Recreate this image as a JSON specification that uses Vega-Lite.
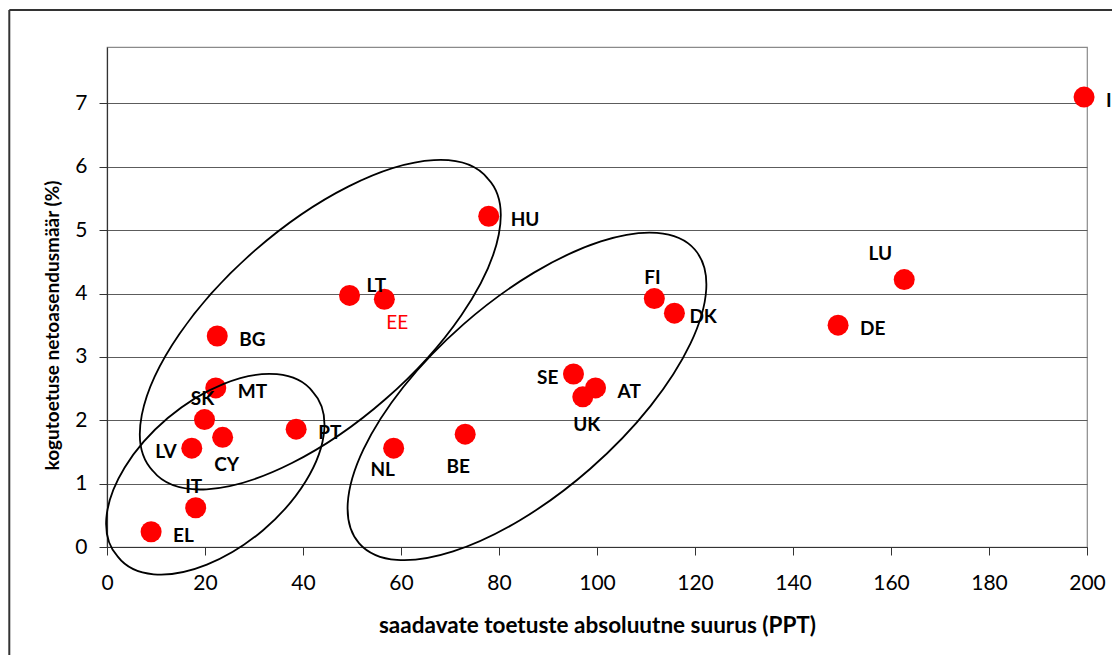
{
  "$schema": "https://vega.github.io/schema/vega-lite/v6.json",
  "width": 980,
  "height": 500,
  "autosize": {"type": "none"},
  "padding": {"left": 107, "top": 47, "right": 25, "bottom": 108},
  "background": "white",
  "config": {
    "view": {"stroke": "#8a8a8a", "strokeWidth": 1.2},
    "font": "Lato",
    "text": {"font": "Lato", "fontSize": 19, "fontWeight": "bold", "color": "#000000", "baseline": "middle"}
  },
  "datasets": {
    "countries": [
      {"country": "IE", "support": 199.4, "rate": 7.10, "side": "right"},
      {"country": "HU", "support": 77.9, "rate": 5.22, "side": "right"},
      {"country": "LU", "support": 162.7, "rate": 4.22, "side": "aboveLeft"},
      {"country": "LT", "support": 49.5, "rate": 3.97, "side": "aboveRight"},
      {"country": "EE", "support": 56.6, "rate": 3.91, "side": "home"},
      {"country": "FI", "support": 111.7, "rate": 3.92, "side": "above"},
      {"country": "DK", "support": 115.8, "rate": 3.69, "side": "rightNear"},
      {"country": "DE", "support": 149.2, "rate": 3.50, "side": "right"},
      {"country": "BG", "support": 22.5, "rate": 3.33, "side": "right"},
      {"country": "MT", "support": 22.2, "rate": 2.51, "side": "right"},
      {"country": "SE", "support": 95.2, "rate": 2.73, "side": "left"},
      {"country": "AT", "support": 99.7, "rate": 2.51, "side": "right"},
      {"country": "UK", "support": 97.1, "rate": 2.37, "side": "below"},
      {"country": "SK", "support": 19.9, "rate": 2.01, "side": "above"},
      {"country": "PT", "support": 38.6, "rate": 1.86, "side": "right"},
      {"country": "CY", "support": 23.6, "rate": 1.73, "side": "below"},
      {"country": "LV", "support": 17.3, "rate": 1.56, "side": "left"},
      {"country": "NL", "support": 58.5, "rate": 1.56, "side": "belowLeft"},
      {"country": "BE", "support": 73.1, "rate": 1.78, "side": "belowDeep"},
      {"country": "IT", "support": 18.1, "rate": 0.62, "side": "above"},
      {"country": "EL", "support": 9.0, "rate": 0.24, "side": "right"}
    ],
    "clusters": [
      {"cluster": "A", "support": 43.53, "rate": 3.508},
      {"cluster": "B", "support": 85.71, "rate": 2.376},
      {"cluster": "C", "support": 22.10, "rate": 1.148}
    ],
    "frame": [
      {"left": -19.94, "right": 240, "top": 8.473, "bottom": -3}
    ]
  },
  "encoding": {
    "x": {
      "field": "support",
      "type": "quantitative",
      "scale": {"domain": [0, 200], "nice": false, "zero": false},
      "axis": {
        "values": [0, 20, 40, 60, 80, 100, 120, 140, 160, 180, 200],
        "grid": false,
        "domainColor": "#333333",
        "domainWidth": 1.2,
        "tickColor": "#333333",
        "tickSize": 8,
        "labelFont": "Lato",
        "labelFontSize": 21,
        "labelColor": "#000000",
        "labelPadding": 17,
        "labelFlush": false,
        "title": "saadavate toetuste absoluutne suurus (PPT)",
        "titleFont": "Lato",
        "titleFontSize": 22.5,
        "titleFontWeight": "bold",
        "titleColor": "#000000",
        "titleY": 67
      }
    },
    "y": {
      "field": "rate",
      "type": "quantitative",
      "scale": {"domain": [0, 7.89], "nice": false, "zero": false},
      "axis": {
        "values": [0, 1, 2, 3, 4, 5, 6, 7],
        "grid": true,
        "gridColor": "#5c5c5c",
        "gridWidth": 1,
        "domainColor": "#333333",
        "domainWidth": 1.2,
        "tickColor": "#333333",
        "tickSize": 8,
        "labelFont": "Lato",
        "labelFontSize": 21,
        "labelColor": "#000000",
        "labelPadding": 12,
        "labelFlush": false,
        "title": "kogutoetuse netoasendusmäär (%)",
        "titleFont": "Lato",
        "titleFontSize": 19,
        "titleFontWeight": "bold",
        "titleColor": "#000000",
        "titleX": -45,
        "titleY": 278
      }
    }
  },
  "layer": [
    {
      "data": {"name": "frame"},
      "mark": {"type": "rule", "stroke": "#333333", "strokeWidth": 2, "clip": false},
      "encoding": {
        "x": {"field": "left", "type": "quantitative"},
        "y": {"field": "top", "type": "quantitative"},
        "y2": {"field": "bottom"}
      }
    },
    {
      "data": {"name": "frame"},
      "mark": {"type": "rule", "stroke": "#333333", "strokeWidth": 2, "clip": false},
      "encoding": {
        "x": {"field": "left", "type": "quantitative"},
        "x2": {"field": "right"},
        "y": {"field": "top", "type": "quantitative"}
      }
    },
    {
      "data": {"name": "countries"},
      "mark": {"type": "circle", "size": 441, "color": "#ff0000", "opacity": 1}
    },
    {
      "data": {"name": "countries"},
      "transform": [{"filter": "datum.side === 'right'"}],
      "mark": {"type": "text", "align": "left", "dx": 22, "dy": 4},
      "encoding": {"text": {"field": "country"}}
    },
    {
      "data": {"name": "countries"},
      "transform": [{"filter": "datum.side === 'rightNear'"}],
      "mark": {"type": "text", "align": "left", "dx": 15, "dy": 4},
      "encoding": {"text": {"field": "country"}}
    },
    {
      "data": {"name": "countries"},
      "transform": [{"filter": "datum.side === 'left'"}],
      "mark": {"type": "text", "align": "right", "dx": -15, "dy": 4},
      "encoding": {"text": {"field": "country"}}
    },
    {
      "data": {"name": "countries"},
      "transform": [{"filter": "datum.side === 'above'"}],
      "mark": {"type": "text", "align": "center", "dx": -2, "dy": -21},
      "encoding": {"text": {"field": "country"}}
    },
    {
      "data": {"name": "countries"},
      "transform": [{"filter": "datum.side === 'aboveRight'"}],
      "mark": {"type": "text", "align": "left", "dx": 17, "dy": -9},
      "encoding": {"text": {"field": "country"}}
    },
    {
      "data": {"name": "countries"},
      "transform": [{"filter": "datum.side === 'aboveLeft'"}],
      "mark": {"type": "text", "align": "center", "dx": -24, "dy": -26},
      "encoding": {"text": {"field": "country"}}
    },
    {
      "data": {"name": "countries"},
      "transform": [{"filter": "datum.side === 'below'"}],
      "mark": {"type": "text", "align": "center", "dx": 4, "dy": 28},
      "encoding": {"text": {"field": "country"}}
    },
    {
      "data": {"name": "countries"},
      "transform": [{"filter": "datum.side === 'belowLeft'"}],
      "mark": {"type": "text", "align": "center", "dx": -11, "dy": 22},
      "encoding": {"text": {"field": "country"}}
    },
    {
      "data": {"name": "countries"},
      "transform": [{"filter": "datum.side === 'belowDeep'"}],
      "mark": {"type": "text", "align": "center", "dx": -7, "dy": 33},
      "encoding": {"text": {"field": "country"}}
    },
    {
      "data": {"name": "countries"},
      "transform": [{"filter": "datum.side === 'home'"}],
      "mark": {"type": "text", "align": "center", "dx": 13, "dy": 24, "color": "#ff0000", "fontWeight": "normal"},
      "encoding": {"text": {"field": "country"}}
    },
    {
      "data": {"name": "clusters"},
      "mark": {"type": "point", "filled": false, "stroke": "#000000", "strokeWidth": 1.8, "opacity": 1, "size": 4},
      "encoding": {
        "shape": {
          "field": "cluster",
          "type": "nominal",
          "legend": null,
          "scale": {
            "domain": ["A", "B", "C"],
            "range": [
              "M-167.5,146.1A222.3,97.2,-41.1,1,1,167.5,-146.1A222.3,97.2,-41.1,1,1,-167.5,146.1Z",
              "M-167.8,146.9A223,96.1,-41.2,1,1,167.8,-146.9A223,96.1,-41.2,1,1,-167.8,146.9Z",
              "M-97.5,82.4A127.7,71.7,-40.2,1,1,97.5,-82.4A127.7,71.7,-40.2,1,1,-97.5,82.4Z"
            ]
          }
        }
      }
    }
  ]
}
